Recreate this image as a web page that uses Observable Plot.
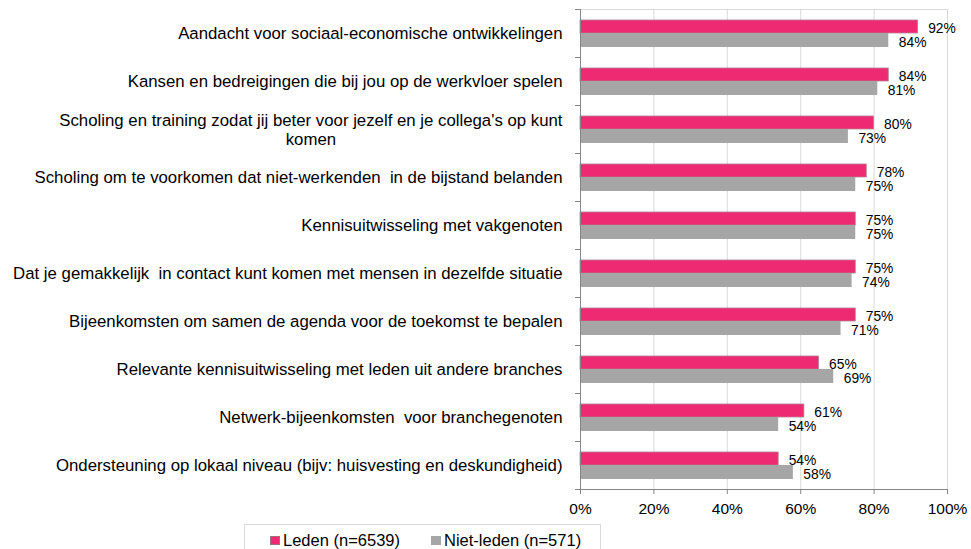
<!DOCTYPE html>
<html><head><meta charset="utf-8">
<script src="https://cdn.jsdelivr.net/npm/d3@7"></script>
<script src="https://cdn.jsdelivr.net/npm/@observablehq/plot@0.6"></script>
<style>
body{margin:0;background:#fff;font-family:"Liberation Sans",Arial,sans-serif;color:#000;}
#chart{position:relative;width:971px;height:549px;overflow:hidden;}
#chart svg{display:block;}
#chart svg text{white-space:pre;}
.legend{position:absolute;left:244px;top:524px;width:357px;height:30px;border:1px solid #d9d9d9;box-sizing:border-box;font-size:16.5px;}
.legend .item{position:absolute;top:6px;display:flex;align-items:center;white-space:nowrap;line-height:18px;}
.legend .sw{display:inline-block;width:8px;height:7px;margin-right:3px;}
</style></head><body><div id="chart"></div>
<script>
const categories = [
  "Aandacht voor sociaal-economische ontwikkelingen",
  "Kansen en bedreigingen die bij jou op de werkvloer spelen",
  "Scholing en training zodat jij beter voor jezelf en je collega's op kunt\nkomen",
  "Scholing om te voorkomen dat niet-werkenden  in de bijstand belanden",
  "Kennisuitwisseling met vakgenoten",
  "Dat je gemakkelijk  in contact kunt komen met mensen in dezelfde situatie",
  "Bijeenkomsten om samen de agenda voor de toekomst te bepalen",
  "Relevante kennisuitwisseling met leden uit andere branches",
  "Netwerk-bijeenkomsten  voor branchegenoten",
  "Ondersteuning op lokaal niveau (bijv: huisvesting en deskundigheid)"
];
const leden = [92, 84, 80, 78, 75, 75, 75, 65, 61, 54];
const nietLeden = [84, 81, 73, 75, 75, 74, 71, 69, 54, 58];
const seriesNames = ["Leden (n=6539)", "Niet-leden (n=571)"];
const seriesColors = ["#ee2a72", "#a6a6a6"];
const xTicks = [0, 20, 40, 60, 80, 100];

const rowsLeden = categories.map((c, i) => ({category: c, value: leden[i] / 100}));
const rowsNiet = categories.map((c, i) => ({category: c, value: nietLeden[i] / 100}));

const single = categories.filter(c => !c.includes("\n"));
const wrapped = categories.filter(c => c.includes("\n"));

const labelFont = 16.8;
const ctx = document.createElement("canvas").getContext("2d");
ctx.font = `${labelFont}px "Liberation Sans"`;
const wrappedWidth = wrapped.length ? ctx.measureText(wrapped[0].split("\n")[0]).width : 0;

const plotLeft = 580, plotRight = 947;
const tickLen = 5 / (plotRight - plotLeft);
const half = 24;

const chart = Plot.plot({
  width: 971,
  height: 522,
  marginLeft: plotLeft,
  marginRight: 971 - plotRight,
  marginTop: 9,
  marginBottom: 33,
  style: {fontFamily: '"Liberation Sans", Arial, sans-serif', color: "#000", background: "#fff"},
  x: {domain: [0, 1], axis: null},
  y: {domain: categories, padding: 0, axis: null},
  marks: [
    Plot.gridX(xTicks.slice(1).map(t => t / 100), {stroke: "#d9d9d9", strokeOpacity: 1}),
    Plot.ruleY([categories[0]], {dy: -half, stroke: "#d9d9d9"}),
    Plot.barX(rowsLeden, {x: "value", y: "category", fill: seriesColors[0], stroke: "#b0828f", strokeWidth: 0.8, insetTop: 11, insetBottom: 24}),
    Plot.barX(rowsNiet, {x: "value", y: "category", fill: seriesColors[1], insetTop: 24, insetBottom: 10}),
    Plot.text(rowsLeden, {x: "value", y: "category", text: d => d3.format(".0%")(d.value), dx: 10, dy: -5, textAnchor: "start", fontSize: 13.8, fill: "#000"}),
    Plot.text(rowsNiet, {x: "value", y: "category", text: d => d3.format(".0%")(d.value), dx: 10, dy: 9, textAnchor: "start", fontSize: 13.8, fill: "#000"}),
    Plot.ruleX([0], {stroke: "#868686"}),
    Plot.ruleY([categories[categories.length - 1]], {dy: half, stroke: "#868686"}),
    Plot.ruleY(categories, {y: d => d, dy: half, x1: -tickLen, x2: 0, stroke: "#868686", clip: false}),
    Plot.ruleY([categories[0]], {y: d => d, dy: -half, x1: -tickLen, x2: 0, stroke: "#868686", clip: false}),
    Plot.text(single, {y: d => d, text: d => d, frameAnchor: "left", textAnchor: "end", dx: -18, fontSize: labelFont, fill: "#000"}),
    Plot.text(wrapped, {y: d => d, text: d => d, frameAnchor: "left", textAnchor: "middle", lineAnchor: "middle", lineHeight: 1.15, dx: -18 - wrappedWidth / 2, fontSize: labelFont, fill: "#000"}),
    Plot.axisX(xTicks.map(t => t / 100), {tickFormat: d3.format(".0%"), tickSize: 5, tickPadding: 8, fontSize: 15.5, stroke: "#868686", color: "#000", label: null})
  ]
});

const root = document.getElementById("chart");
root.appendChild(chart);
const legend = document.createElement("div");
legend.className = "legend";
const lx = [25, 186];
seriesNames.forEach((name, i) => {
  const item = document.createElement("div");
  item.className = "item";
  item.style.left = lx[i] + "px";
  const sw = document.createElement("span");
  sw.className = "sw";
  sw.style.background = seriesColors[i];
  sw.style.border = i === 0 ? "1px solid #a0707f" : "1px solid #a6a6a6";
  item.appendChild(sw);
  item.appendChild(document.createTextNode(name));
  legend.appendChild(item);
});
root.appendChild(legend);
</script></body></html>
